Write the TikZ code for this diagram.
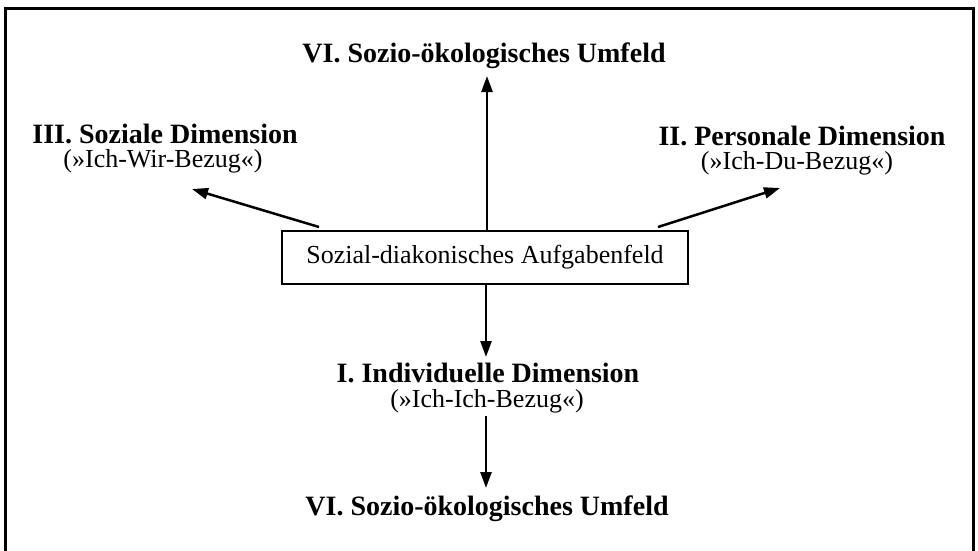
\documentclass[tikz,border=0pt]{standalone}
\usepackage{fontspec}
\setmainfont{Liberation Serif}
\usetikzlibrary{arrows.meta}
\begin{document}
\begin{tikzpicture}[x=1pt,y=-1pt,
  ttl/.style={font=\bfseries\fontsize{28}{30}\selectfont, inner sep=0pt, anchor=base},
  sub/.style={font=\fontsize{26}{28}\selectfont, inner sep=0pt, anchor=base},
  conn/.style={line width=2.5pt, -{Triangle[length=16pt,width=11pt]}},
  boxed/.style={draw, line width=2pt, minimum width=406pt, minimum height=53pt, font=\fontsize{26}{28}\selectfont}
]
\useasboundingbox (0,0) rectangle (978,550);
\clip (0,0) rectangle (978,550);
\draw[line width=3pt] (5,8) rectangle (973,570);
\node[boxed] (box) at (485,257.5) {Sozial-diakonisches Aufgabenfeld};
\node[ttl] (top) at (484,62) {VI. Sozio-ökologisches Umfeld};
\node[ttl] (soz) at (165,143) {III. Soziale Dimension};
\node[sub] (sozb) at (163,167) {(»Ich-Wir-Bezug«)};
\node[ttl] (pers) at (802,145) {II. Personale Dimension};
\node[sub] (persb) at (797,169) {(»Ich-Du-Bezug«)};
\node[ttl] (ind) at (488,382) {I. Individuelle Dimension};
\node[sub] (indb) at (487,407) {(»Ich-Ich-Bezug«)};
\node[ttl] (bot) at (487,515) {VI. Sozio-ökologisches Umfeld};
\coordinate (tipTop) at (487,76);
\coordinate (tipL) at (192,189);
\coordinate (tipR) at (780,188);
\coordinate (tipI) at (486,357);
\coordinate (tipB) at (486,488);
\draw[conn] (box.north -| tipTop) -- (tipTop);
\draw[conn] ([xshift=38pt,yshift=3pt]box.north west) -- (tipL);
\draw[conn] ([xshift=-31pt,yshift=3pt]box.north east) -- (tipR);
\draw[conn] (box.south -| tipI) -- (tipI);
\draw[conn] ([yshift=-3pt]indb.south -| tipB) -- (tipB);
\end{tikzpicture}
\end{document}
